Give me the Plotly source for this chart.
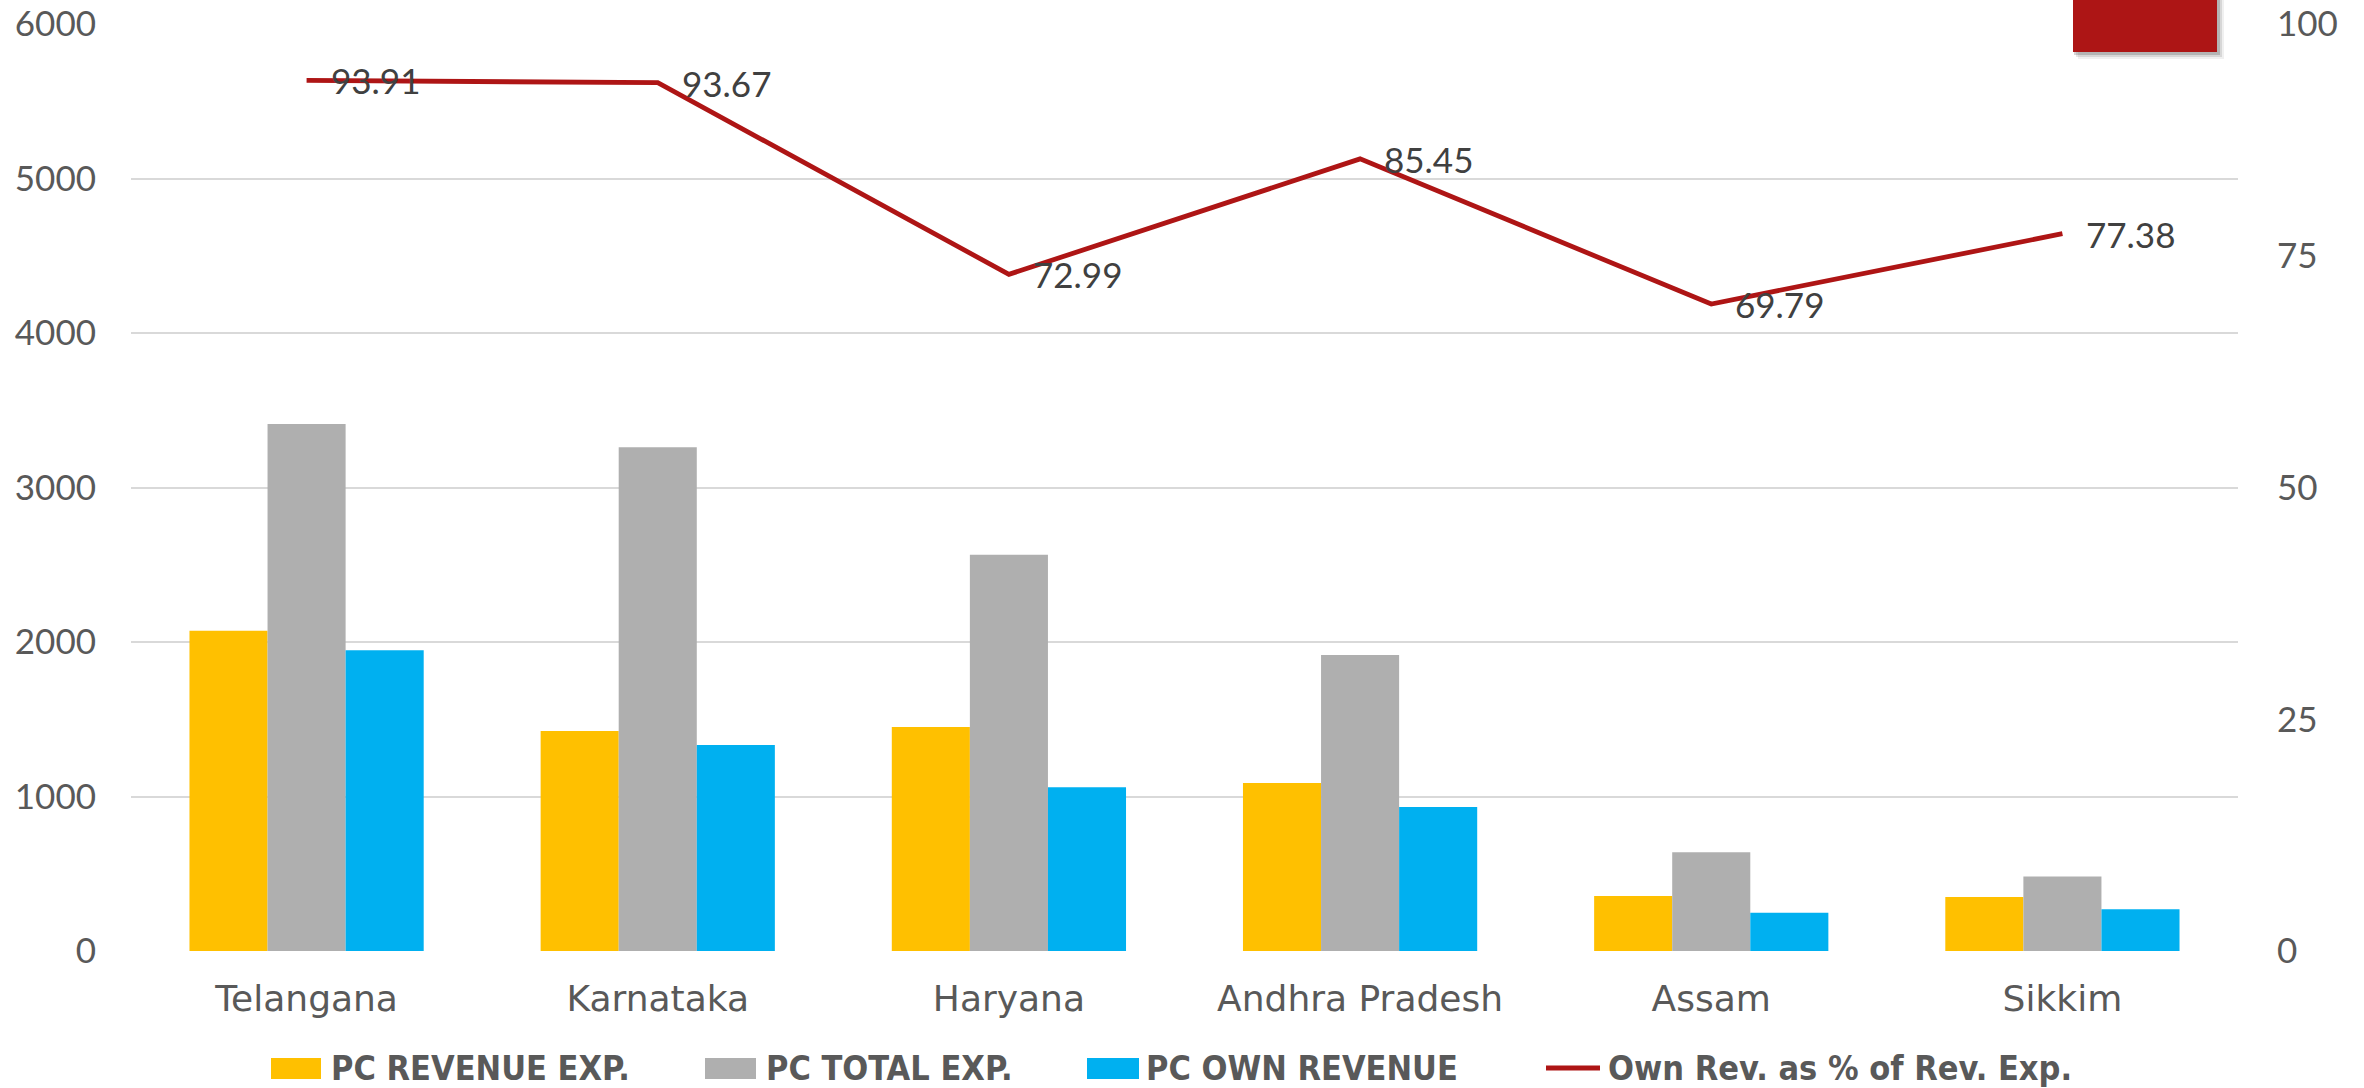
import plotly.graph_objects as go

# ---- data ----
states = ["Telangana", "Karnataka", "Haryana", "Andhra Pradesh", "Assam", "Sikkim"]
pc_revenue_exp = [2073, 1424, 1450, 1087, 356, 349]
pc_total_exp = [3411, 3260, 2565, 1916, 639, 483]
pc_own_revenue = [1947, 1333, 1060, 932, 248, 270]
own_rev_pct = [93.91, 93.67, 72.99, 85.45, 69.79, 77.38]

left_ticks = [0, 1000, 2000, 3000, 4000, 5000, 6000]
right_ticks = [0, 25, 50, 75, 100]

series_names = ["PC REVENUE EXP.", "PC TOTAL EXP.", "PC OWN REVENUE",
                "Own Rev. as % of Rev. Exp."]

# ---- styling ----
W, H = 2364, 1088
ML, MR, MT, MB = 131, 126, 24, 137
PW, PH = W - ML - MR, H - MT - MB
FONT = "Lato"
CAT_FONT = "DejaVu Sans"
LEG_FONT = "DejaVu Sans Condensed, Lato"
TICK_COLOR = "#595959"
LABEL_COLOR = "#404040"
YELLOW, GREY, BLUE, RED = "#FFC000", "#AFAFAF", "#00B0F0", "#AE1515"


def px_x(px):
    return (px - ML) / PW


def px_y(py):
    return (H - MB - py) / PH


fig = go.Figure()

for name, vals, col in [(series_names[0], pc_revenue_exp, YELLOW),
                        (series_names[1], pc_total_exp, GREY),
                        (series_names[2], pc_own_revenue, BLUE)]:
    fig.add_trace(go.Bar(x=states, y=vals, name=name, marker_color=col,
                         marker_line_width=0, showlegend=False))

fig.add_trace(go.Scatter(x=states, y=own_rev_pct, name=series_names[3],
                         yaxis="y2", mode="lines",
                         line=dict(color=RED, width=4.8),
                         showlegend=False))

# value labels beside each point of the percentage line
for s, v in zip(states, own_rev_pct):
    fig.add_annotation(x=s, y=v, yref="y2", text=f"{v:.2f}", showarrow=False,
                       xanchor="left", yanchor="middle", xshift=22,
                       font=dict(family=FONT, size=35, color=LABEL_COLOR))

# custom legend row
legend_items = [
    ("rect", 271, 321, YELLOW, 329, series_names[0]),
    ("rect", 705, 756, GREY, 764, series_names[1]),
    ("rect", 1087, 1139, BLUE, 1144, series_names[2]),
    ("line", 1546, 1600, RED, 1606, series_names[3]),
]
LEG_Y = 1068
for kind, x0, x1, col, tx, label in legend_items:
    if kind == "rect":
        fig.add_shape(type="rect", xref="paper", yref="paper",
                      x0=px_x(x0), x1=px_x(x1), y0=px_y(1079), y1=px_y(1058),
                      fillcolor=col, line_width=0)
    else:
        fig.add_shape(type="line", xref="paper", yref="paper",
                      x0=px_x(x0), x1=px_x(x1), y0=px_y(LEG_Y), y1=px_y(LEG_Y),
                      line=dict(color=col, width=5))
    fig.add_annotation(xref="paper", yref="paper", x=px_x(tx), y=px_y(LEG_Y),
                       text=f"<b>{label}</b>", showarrow=False,
                       xanchor="left", yanchor="middle",
                       font=dict(family=LEG_FONT, size=34, color=TICK_COLOR))

# red tab in the top-right corner, with a soft drop shadow
for off, op in [(7, 0.06), (5, 0.10), (3, 0.16)]:
    fig.add_shape(type="rect", xref="paper", yref="paper", layer="above",
                  x0=px_x(2073 + off - 2), x1=px_x(2217 + off),
                  y0=px_y(52 + off), y1=px_y(0),
                  fillcolor=f"rgba(0,0,0,{op})", line_width=0)
fig.add_shape(type="rect", xref="paper", yref="paper", layer="above",
              x0=px_x(2073), x1=px_x(2217), y0=px_y(52), y1=px_y(0),
              fillcolor="#AD1515", line_width=0)

fig.update_layout(
    width=W, height=H,
    margin=dict(l=ML, r=MR, t=MT, b=MB, autoexpand=False),
    paper_bgcolor="white", plot_bgcolor="white",
    barmode="group", bargap=0.333, bargroupgap=0,
    font=dict(family=FONT, color=TICK_COLOR),
    xaxis=dict(showgrid=False, showline=False, zeroline=False,
               tickfont=dict(family=CAT_FONT, size=36, color=TICK_COLOR),
               ticks="", ticklabelstandoff=23),
    yaxis=dict(range=[0, 6000], tickvals=left_ticks,
               showgrid=True, gridcolor="#D9D9D9", gridwidth=2,
               zeroline=False, showline=False, ticks="",
               tickfont=dict(family=FONT, size=35, color=TICK_COLOR),
               ticklabelstandoff=34),
    yaxis2=dict(range=[0, 100], tickvals=right_ticks, overlaying="y",
                side="right", showgrid=False, zeroline=False, showline=False,
                ticks="", tickfont=dict(family=FONT, size=35, color=TICK_COLOR),
                ticklabelstandoff=38),
    showlegend=False,
)

fig.write_html("out.html")
